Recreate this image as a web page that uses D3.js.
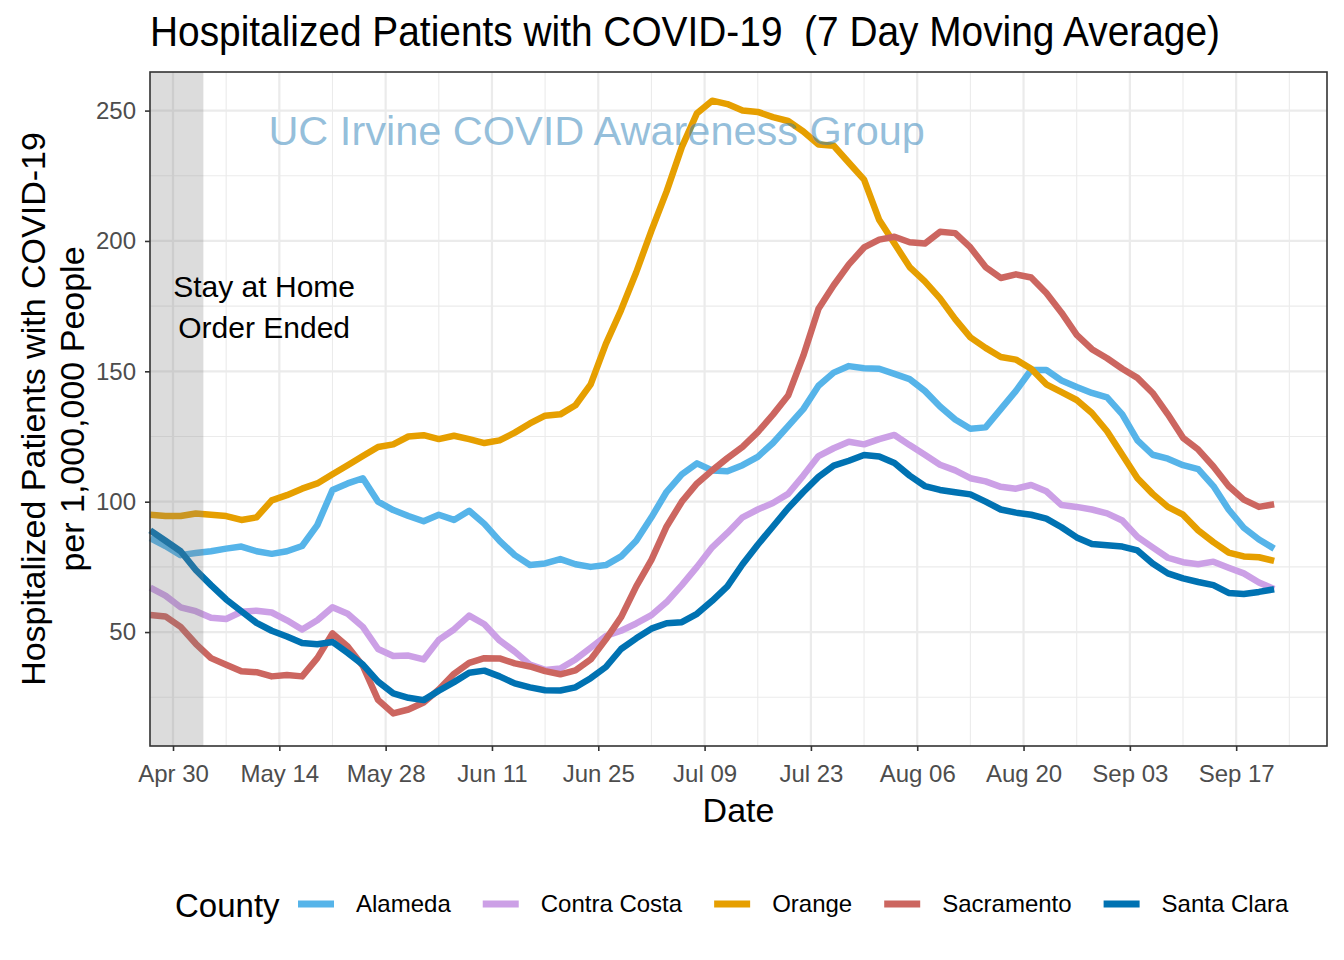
<!DOCTYPE html>
<html><head><meta charset="utf-8">
<script src="https://cdn.jsdelivr.net/npm/d3@7"></script>
<style>
body{margin:0;background:#fff}
svg{display:block}
text{font-family:"Liberation Sans",Arial,Helvetica,sans-serif}
</style>
</head><body>
<svg id="chart" width="1344" height="960"></svg>
<script>
// ---------- data ----------
const dates = ["04-27","04-29","05-01","05-03","05-05","05-07","05-09","05-11","05-13","05-15","05-17","05-19","05-21","05-23","05-25","05-27","05-29","05-31",
"06-02","06-04","06-06","06-08","06-10","06-12","06-14","06-16","06-18","06-20","06-22","06-24","06-26","06-28","06-30",
"07-02","07-04","07-06","07-08","07-10","07-12","07-14","07-16","07-18","07-20","07-22","07-24","07-26","07-28","07-30",
"08-01","08-03","08-05","08-07","08-09","08-11","08-13","08-15","08-17","08-19","08-21","08-23","08-25","08-27","08-29","08-31",
"09-02","09-04","09-06","09-08","09-10","09-12","09-14","09-16","09-18","09-20","09-22"];
const year = 2020;

const alameda = [86,83,79.5,80.3,81,82,82.8,81,80,81,
83,91,104.5,107,109,100,96.8,94.5,92.5,95,
93,96.5,91.5,85,79.5,75.7,76.3,78,76,75,
75.7,79,85,94,103.8,110.5,114.7,112,111.7,114,
117.2,122.5,129,135.5,144.5,149.5,152,151.2,151,149,
147,142.5,136.5,131.5,128,128.5,135.5,142.5,150.5,150.5,
146.5,144,141.7,140,133.5,123.5,118,116.5,114,112.5,
106,97,90,85.5,82];

const contraCosta = [67,64,59.5,58,55.5,55,57.8,58.2,57.5,54.5,
51,54.5,59.5,57,52,43.5,40.8,41,39.5,47,
51,56.3,53,46.8,42.5,37.5,35.5,36,39.5,44,
48.5,50.5,53.3,56.5,61.5,68,75,82.5,88,94,
97,99.5,103,110,117.5,120.5,123,122,124,125.6,
121.7,118,114.2,112,109,107.8,105.7,105,106.4,104,
98.7,98,97,95.5,92.8,86.5,82.5,78.5,76.8,76,
77,74.7,72.5,69,66.5];

const orange = [95,94.5,94.5,95.5,95,94.5,93,94,100.5,102.5,
105,107,110.5,114,117.5,121,122,125,125.5,124,
125.3,124,122.5,123.5,126.5,130,133,133.5,137,145,
160.5,173.5,188,204,219,236,249,253.8,252.5,250,
249.5,247.5,246,242,237,236.5,230,223.5,208,199,
190,184.5,178,170,163,159,155.5,154.5,151,145,
142,139,134,127,118,109,103,98,95,89,
84.5,80.5,79,78.7,77.3];

const sacramento = [56.5,56,52,45.5,40,37.5,35,34.6,33,33.5,
33,40,49.5,44.5,37,24,18.8,20.3,23,28,
34,38.2,40,39.9,38,36.8,35,33.8,35.3,39.5,
47.2,55.7,67.5,77.7,90.5,100,107,112,116.7,121,
126.7,133.4,140.7,156,174,183,191,197.5,200.5,201.6,
199.5,199,203.5,203,197.5,190,185.8,187.2,186,180,
172.5,164,158.5,155,151,147.5,141.7,133.5,124.5,120,
113.5,106,100.8,98,99];

const santaClara = [89,85,81,73.8,68,62.5,58,53.5,50.5,48.3,
45.8,45.3,46.2,42,37.5,31,26.5,24.8,23.9,27.5,
30.8,34.4,35.2,33,30.3,28.8,27.7,27.6,28.8,32.3,
36.6,43.5,47.6,51.3,53.4,53.8,57,62,67.5,76,
83.5,90.5,97.5,103.7,109.5,113.8,115.7,117.9,117.3,114.8,
110,106,104.5,103.6,102.8,100,97,95.8,95,93.5,
90.2,86.3,83.8,83.3,82.8,81.3,76.3,72.5,70.6,69.2,
68,65,64.6,65.4,66.4];

const counties = ["Alameda","Contra Costa","Orange","Sacramento","Santa Clara"];
const countyValues = [alameda, contraCosta, orange, sacramento, santaClara];
const countyColors = ["#56B4E9","#CCA0E6","#E69F00","#CC6660","#0072B2"];

const xTickDates = ["04-30","05-14","05-28","06-11","06-25","07-09","07-23","08-06","08-20","09-03","09-17"];
const yTicks = [50,100,150,200,250];
const yMinorTicks = [25,75,125,175,225];

const titleText = "Hospitalized Patients with COVID-19  (7 Day Moving Average)";
const yTitleLines = ["Hospitalized Patients with COVID-19","per 1,000,000 People"];
const xTitle = "Date";
const legendTitle = "County";
const watermark = "UC Irvine COVID Awareness Group";
const stayHome = {start:"04-27", end:"05-04", labelDate:"05-12", labelValue:174.5, lines:["Stay at Home","Order Ended"]};

// ---------- setup ----------
const parse = s => new Date(year, +s.slice(0,2)-1, +s.slice(3,5));
const DAY = 864e5;
const svg = d3.select("#chart");
const P = {l:150, r:1327, t:72, b:746};

const x0 = parse("04-30");
const x = d3.scaleTime()
  .domain([new Date(+x0 - 3.03*DAY), new Date(+x0 + 151.96*DAY)])
  .range([P.l, P.r]);
const y = d3.scaleLinear().domain([6.3, 264.8]).range([P.b, P.t]);

const font = '"Liberation Sans",Arial,Helvetica,sans-serif';

// panel background
svg.append("rect").attr("x",P.l).attr("y",P.t).attr("width",P.r-P.l).attr("height",P.b-P.t).attr("fill","#fff");

const grid = svg.append("g");
const xMinor = xTickDates.map(d => new Date(+parse(d) + 7*DAY)).filter(d => x(d) < P.r);
grid.selectAll(".ymin").data(yMinorTicks).join("line")
  .attr("x1",P.l).attr("x2",P.r).attr("y1",d=>y(d)).attr("y2",d=>y(d))
  .attr("stroke","#EBEBEB").attr("stroke-width",1.1);
grid.selectAll(".xmin").data(xMinor).join("line")
  .attr("y1",P.t).attr("y2",P.b).attr("x1",d=>x(d)).attr("x2",d=>x(d))
  .attr("stroke","#EBEBEB").attr("stroke-width",1.1);
grid.selectAll(".ymaj").data(yTicks).join("line")
  .attr("x1",P.l).attr("x2",P.r).attr("y1",d=>y(d)).attr("y2",d=>y(d))
  .attr("stroke","#EBEBEB").attr("stroke-width",2.2);
grid.selectAll(".xmaj").data(xTickDates.map(parse)).join("line")
  .attr("y1",P.t).attr("y2",P.b).attr("x1",d=>x(d)).attr("x2",d=>x(d))
  .attr("stroke","#EBEBEB").attr("stroke-width",2.2);

// lines
const line = d3.line().x((d,i)=>x(parse(dates[i]))).y(d=>y(d)).curve(d3.curveLinear);
const lines = svg.append("g");
countyValues.forEach((vals,i)=>{
  lines.append("path").datum(vals)
    .attr("d", line)
    .attr("fill","none")
    .attr("stroke", countyColors[i])
    .attr("stroke-width", 6.5)
    .attr("stroke-linejoin","round")
    .attr("stroke-linecap","butt");
});

// stay-at-home shading
svg.append("rect")
  .attr("x", x(parse(stayHome.start)) - 0.5)
  .attr("y", P.t)
  .attr("width", x(parse(stayHome.end)) - x(parse(stayHome.start)) + 0.5)
  .attr("height", P.b - P.t)
  .attr("fill", "#7f7f7f").attr("fill-opacity", 0.27);

// annotation text
const ann = svg.append("g").attr("font-size", 30).attr("fill","#000").attr("text-anchor","middle");
stayHome.lines.forEach((t,i)=>{
  ann.append("text").attr("x", x(parse(stayHome.labelDate)))
    .attr("y", y(stayHome.labelValue) + (i===0 ? -20.5 : 20.5))
    .attr("dy","0.35em").text(t);
});

// watermark
svg.append("text")
  .attr("x", x(parse("06-24")) + 6).attr("y", y(242.5))
  .attr("dy","0.35em").attr("text-anchor","middle")
  .attr("font-size", 41.5).attr("fill","#2C7FB8").attr("fill-opacity",0.5)
  .text(watermark);

// panel border
svg.append("rect").attr("x",P.l).attr("y",P.t).attr("width",P.r-P.l).attr("height",P.b-P.t)
  .attr("fill","none").attr("stroke","#333333").attr("stroke-width",1.6);

// axes
const yAxis = svg.append("g").attr("transform",`translate(${P.l},0)`)
  .call(d3.axisLeft(y).tickValues(yTicks).tickSize(5).tickPadding(9));
const xAxis = svg.append("g").attr("transform",`translate(0,${P.b})`)
  .call(d3.axisBottom(x).tickValues(xTickDates.map(parse)).tickFormat(d3.timeFormat("%b %d")).tickSize(5).tickPadding(8));
[yAxis,xAxis].forEach(a=>{
  a.select(".domain").remove();
  a.selectAll(".tick line").attr("stroke","#333333").attr("stroke-width",1.6);
  a.selectAll(".tick text").attr("fill","#4D4D4D").attr("font-size",24).attr("font-family",font);
});
xAxis.selectAll(".tick text").attr("dy","0.95em");

// axis titles
svg.append("text").attr("x",(P.l+P.r)/2).attr("y",822).attr("text-anchor","middle")
  .attr("font-size",34).text(xTitle);
yTitleLines.forEach((t,i)=>{
  svg.append("text")
    .attr("transform",`translate(${i===0?45:84},${(P.t+P.b)/2}) rotate(-90)`)
    .attr("text-anchor","middle").attr("font-size",34).text(t);
});

// title
svg.append("text").attr("x",P.l).attr("y",46).attr("font-size",42)
  .style("white-space","pre").text(titleText)
  .attr("textLength", 1070).attr("lengthAdjust","spacingAndGlyphs");

// legend
const lg = svg.append("g");
lg.append("text").attr("x",175).attr("y",905).attr("dy","0.35em").attr("font-size",33).text(legendTitle);
let lx = 298;
counties.forEach((c,i)=>{
  lg.append("line").attr("x1",lx).attr("x2",lx+36).attr("y1",904).attr("y2",904)
    .attr("stroke",countyColors[i]).attr("stroke-width",7);
  const t = lg.append("text").attr("x",lx+58).attr("y",904).attr("dy","0.35em").attr("font-size",24).text(c);
  lx = lx + 58 + t.node().getComputedTextLength() + 32;
});
</script>
</body></html>
